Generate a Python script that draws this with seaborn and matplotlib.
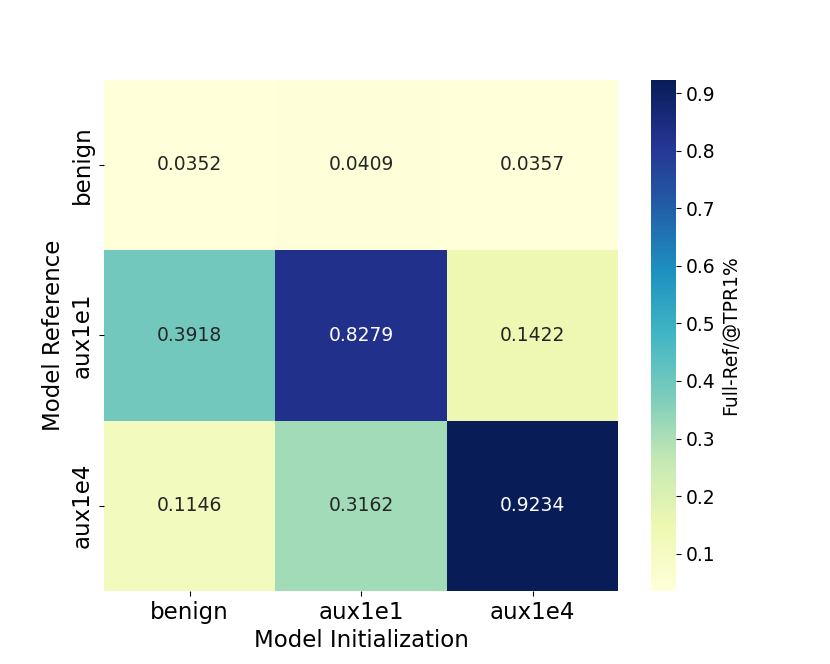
import numpy as np
import pandas as pd
import matplotlib
matplotlib.use('Agg')
import matplotlib.pyplot as plt
import seaborn as sns

models = ['benign', 'aux1e1', 'aux1e4']
values = [
    [0.0352, 0.0409, 0.0357],
    [0.3918, 0.8279, 0.1422],
    [0.1146, 0.3162, 0.9234],
]

df = pd.DataFrame(values, index=models, columns=models)

fig = plt.figure(figsize=(8.3, 6.64), dpi=100)
ax = sns.heatmap(df, annot=True, fmt='.4f', cmap='YlGnBu',
                 annot_kws={'fontsize': 13.5},
                 cbar_kws={'label': 'Full-Ref/@TPR1%'})
ax.set_xlabel('Model Initialization', fontsize=16.5)
ax.set_ylabel('Model Reference', fontsize=16.5)
ax.tick_params(axis='both', labelsize=16.5)
cbar = ax.collections[0].colorbar
cbar.ax.tick_params(labelsize=13.5)
cbar.ax.yaxis.label.set_fontsize(13.5)
plt.savefig('out.png', dpi=100)
